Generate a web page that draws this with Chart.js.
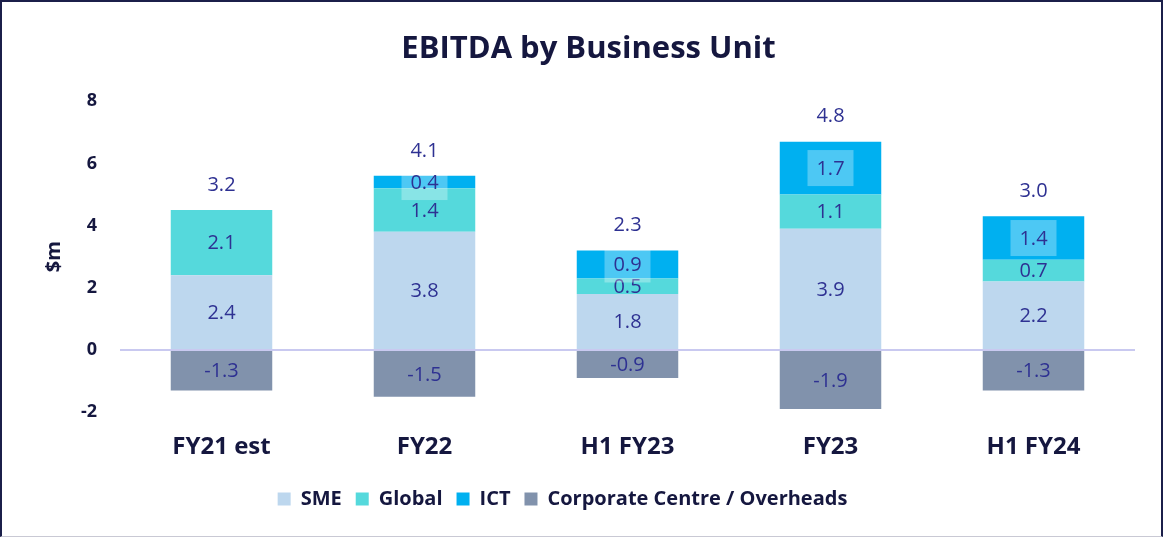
<!DOCTYPE html>
<html>
<head>
<meta charset="utf-8">
<script src="https://cdn.jsdelivr.net/npm/chart.js@4.4.0/dist/chart.umd.min.js"></script>
<style>
  html, body { margin: 0; padding: 0; background: #fff; }
  #wrap {
    width: 1163px; height: 537px; box-sizing: border-box;
    border-left: 2px solid #1b1f4a; border-top: 2px solid #1b1f4a;
    border-right: 2px solid #1b1f4a; border-bottom: 1px solid #c9c9d4;
    position: relative;
  }
</style>
</head>
<body>
<div id="wrap"><canvas id="myChart"></canvas></div>
<script>
const categories = ["FY21 est", "FY22", "H1 FY23", "FY23", "H1 FY24"];
const smeValues = [2.4, 3.8, 1.8, 3.9, 2.2];
const globalValues = [2.1, 1.4, 0.5, 1.1, 0.7];
const ictValues = [0, 0.4, 0.9, 1.7, 1.4];
const corporateValues = [-1.3, -1.5, -0.9, -1.9, -1.3];
const totalValues = [3.2, 4.1, 2.3, 4.8, 3.0];
const yTicks = [-2, 0, 2, 4, 6, 8];

const navy = "#15173f";
const labelColor = "#2e3192";
const fontName = "'Open Sans'";

// value labels inside segments + totals above the stacks
const labelPlugin = {
  id: "labels",
  afterLayout(chart) {
    // legend sits a little left of centre in the original
    chart.legend.left -= 26;
    chart.legend.right -= 26;
  },
  afterDatasetsDraw(chart) {
    const ctx = chart.ctx;
    const yScale = chart.scales.y;
    ctx.save();
    ctx.font = "20px " + fontName;
    ctx.textAlign = "center";
    ctx.textBaseline = "middle";
    chart.data.datasets.forEach((ds, i) => {
      const meta = chart.getDatasetMeta(i);
      meta.data.forEach((bar, j) => {
        const v = ds.data[j];
        if (!v) return;
        const p = bar.getProps(["x", "y", "base"], true);
        const cy = (p.y + p.base) / 2;
        if (ds.label === "ICT") {
          ctx.fillStyle = "rgba(255,255,255,0.3)";
          ctx.fillRect(p.x - 23, cy - 18, 46, 36);
        }
        ctx.fillStyle = labelColor;
        ctx.fillText(v.toFixed(1), p.x, cy + 1);
      });
    });
    const meta0 = chart.getDatasetMeta(0);
    totalValues.forEach((t, j) => {
      const top = smeValues[j] + globalValues[j] + ictValues[j];
      const y = yScale.getPixelForValue(top) - 25;
      ctx.fillStyle = labelColor;
      ctx.fillText(t.toFixed(1), meta0.data[j].x, y);
    });
    ctx.restore();
  }
};

new Chart("myChart", {
  type: "bar",
  data: {
    labels: categories,
    datasets: [
      { label: "SME", data: smeValues, backgroundColor: "#bdd7ee" },
      { label: "Global", data: globalValues, backgroundColor: "#55d9dc" },
      { label: "ICT", data: ictValues, backgroundColor: "#00b0f0" },
      { label: "Corporate Centre / Overheads", data: corporateValues, backgroundColor: "#8192ac" }
    ]
  },
  options: {
    responsive: true,
    maintainAspectRatio: false,
    animation: false,
    layout: { padding: { left: 40, right: 26, bottom: 17 } },
    datasets: { bar: { barPercentage: 1, categoryPercentage: 0.5 } },
    plugins: {
      title: {
        display: true,
        text: "EBITDA by Business Unit",
        color: navy,
        font: { family: fontName, size: 31, weight: "bold" },
        padding: { top: 29, bottom: 33 }
      },
      legend: {
        position: "bottom",
        labels: {
          color: navy,
          font: { family: fontName, size: 20, weight: "bold" },
          boxWidth: 13, boxHeight: 13,
          padding: 14
        }
      },
      tooltip: { enabled: false }
    },
    scales: {
      x: {
        stacked: true,
        grid: { display: false },
        border: { display: false },
        ticks: { color: navy, font: { family: fontName, size: 24, weight: "bold" }, padding: 13 }
      },
      y: {
        stacked: true,
        min: -2, max: 8,
        afterBuildTicks: (axis) => { axis.ticks = yTicks.map(v => ({ value: v })); },
        afterFit: (axis) => { axis.width = 78; },
        grid: {
          color: (c) => c.tick && c.tick.value === 0 ? "#c9c9f0" : "transparent",
          lineWidth: 2,
          drawTicks: false
        },
        border: { display: false },
        ticks: { color: navy, font: { family: fontName, size: 18, weight: "bold" }, padding: 23 },
        title: {
          display: true, text: "$m", color: navy,
          font: { family: fontName, size: 20, weight: "bold" }, padding: 0
        }
      }
    }
  },
  plugins: [labelPlugin]
});
</script>
</body>
</html>
